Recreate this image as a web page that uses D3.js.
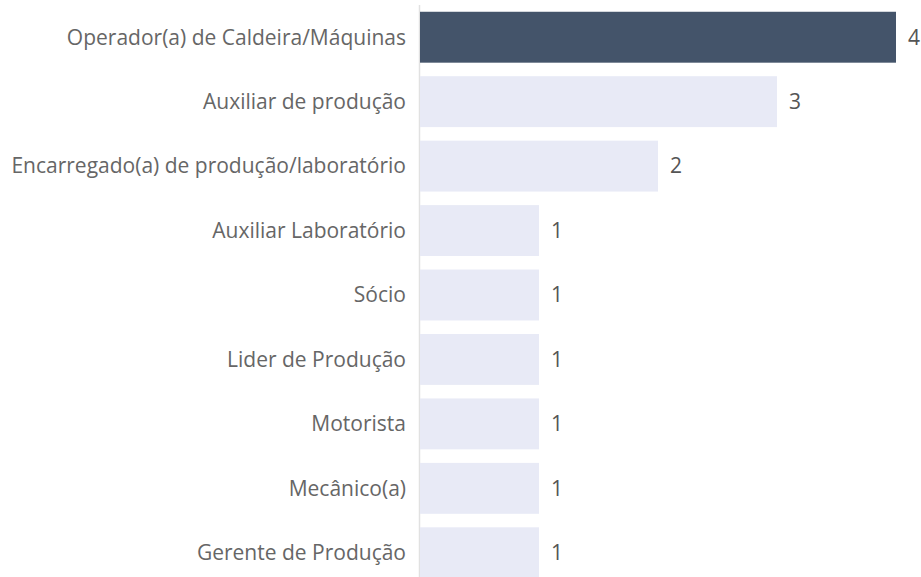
<!DOCTYPE html>
<html>
<head>
<meta charset="utf-8">
<script src="https://cdn.jsdelivr.net/npm/d3@7"></script>
<style>
  body { margin: 0; background: #fff; }
  svg text { font-family: "Open Sans", sans-serif; }
</style>
</head>
<body>
<svg width="921" height="577"></svg>
<script>
const categories = [
  'Operador(a) de Caldeira/Máquinas',
  'Auxiliar de produção',
  'Encarregado(a) de produção/laboratório',
  'Auxiliar Laboratório',
  'Sócio',
  'Lider de Produção',
  'Motorista',
  'Mecânico(a)',
  'Gerente de Produção'
];
const counts = [4, 3, 2, 1, 1, 1, 1, 1, 1];
const highlighted = ['Operador(a) de Caldeira/Máquinas'];

const data = categories.map((c, i) => ({cat: c, n: counts[i]}));

const svg = d3.select('svg');
const margin = {left: 420, top: 5, right: 25, bottom: 0};
const width = 896 - margin.left;
const height = 580;

const g = svg.append('g')
  .attr('transform', `translate(${margin.left},${margin.top})`);

// x scale, longest bar ends at 896
const xScale = d3.scaleLinear()
  .domain([0, d3.max(counts)])
  .range([0, width]);

const yScale = d3.scaleBand()
  .domain(categories)
  .range([0, height])
  .paddingInner(0.21)
  .paddingOuter(0.105);

// thin axis line on the left
g.append('line')
  .attr('x1', -0.5).attr('x2', -0.5)
  .attr('y1', 0).attr('y2', 577)
  .attr('stroke', '#e1e1e1')
  .attr('stroke-width', 1.5);

g.selectAll('rect')
  .data(data).enter().append('rect')
    .attr('x', 0)
    .attr('y', d => yScale(d.cat))
    .attr('width', d => xScale(d.n))
    .attr('height', yScale.bandwidth())
    .attr('fill', d => highlighted.includes(d.cat) ? '#44546a' : '#e8eaf6');

// category labels
g.selectAll('.cat')
  .data(data).enter().append('text')
    .attr('class', 'cat')
    .attr('x', -14)
    .attr('y', d => yScale(d.cat) + yScale.bandwidth() / 2)
    .attr('dy', '0.35em')
    .attr('text-anchor', 'end')
    .attr('font-size', 21)
    .attr('fill', '#666')
    .text(d => d.cat);

// value labels
g.selectAll('.val')
  .data(data).enter().append('text')
    .attr('class', 'val')
    .attr('x', d => xScale(d.n) + 12)
    .attr('y', d => yScale(d.cat) + yScale.bandwidth() / 2)
    .attr('dy', '0.35em')
    .attr('font-size', 21)
    .attr('fill', '#555')
    .text(d => d.n);
</script>
</body>
</html>
